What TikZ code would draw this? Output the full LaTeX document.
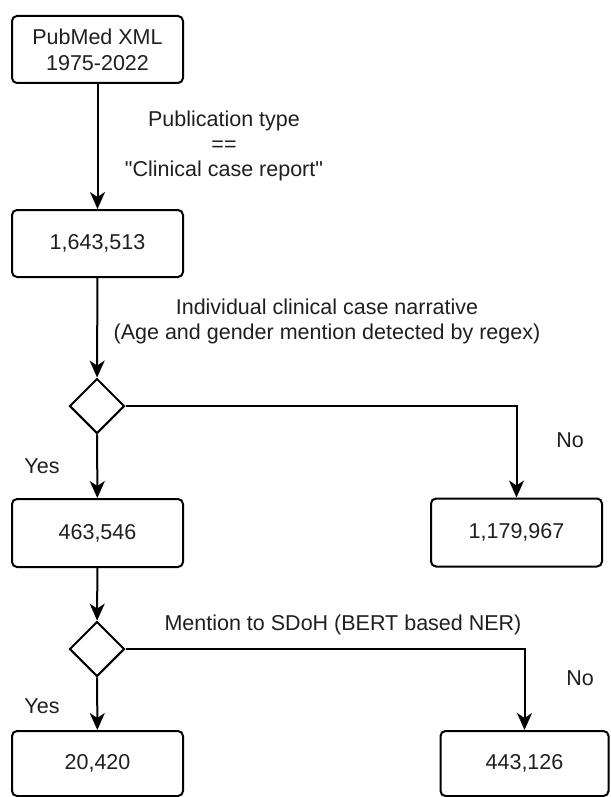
\documentclass[tikz,border=0pt]{standalone}
\usepackage{fontspec}
\setmainfont{Liberation Sans}[Ligatures=TeXOff]
\usetikzlibrary{shapes.geometric,arrows.meta}
\begin{document}
\begin{tikzpicture}[x=1pt,y=-1pt,
  every node/.style={font=\fontsize{21.5}{26}\selectfont, text=black!88},
  stepbox/.style={draw=black, line width=2pt, rounded corners=5pt, minimum width=171pt, minimum height=68pt, align=center, inner sep=0pt},
  decision/.style={draw=black, line width=2pt, diamond, aspect=1, minimum size=55pt, inner sep=0pt},
  lbl/.style={align=center, inner sep=0pt},
  arr/.style={draw=black, line width=2pt, -{Stealth[length=17pt, width=15pt, inset=5pt]}}
]
\useasboundingbox (0,0) rectangle (610,797);
\node[stepbox, minimum height=67pt] (b1) at (97.5,49.5) {PubMed XML\\1975-2022};
\node[stepbox, minimum height=67pt] (b2) at (97.5,243.5) {1,643,513};
\node[decision] (d1) at (97,406) {};
\node[stepbox] (b3) at (97.5,533) {463,546};
\node[stepbox] (b4) at (516.5,532.5) {1,179,967};
\node[decision] (d2) at (97,649) {};
\node[stepbox, minimum height=65pt] (b5) at (97.5,763.5) {20,420};
\node[stepbox, minimum width=168pt, minimum height=65pt] (b6) at (524.5,763.5) {443,126};

\node[lbl, font=\fontsize{21.5}{25}\selectfont] (l1) at (224,146) {Publication type\\==\\"Clinical case report"};
\node[lbl, font=\fontsize{21.5}{25}\selectfont] (l2) at (327,321) {Individual clinical case narrative\\(Age and gender mention detected by regex)};
\node[lbl] (l3) at (343,625) {Mention to SDoH (BERT based NER)};
\node[lbl] (y1) at (42,466) {Yes};
\node[lbl] (n1) at (570,440) {No};
\node[lbl] (y2) at (42,706) {Yes};
\node[lbl] (n2) at (580,678) {No};

\draw[arr] (b1) -- (b2);
\draw[arr] (b2) -- (d1);
\draw[arr] (d1) -- (b3);
\draw[arr] (d1.east) -| (b4);
\draw[arr] (b3) -- (d2);
\draw[arr] (d2) -- (b5);
\draw[arr] (d2.east) -| (b6);
\end{tikzpicture}
\end{document}
